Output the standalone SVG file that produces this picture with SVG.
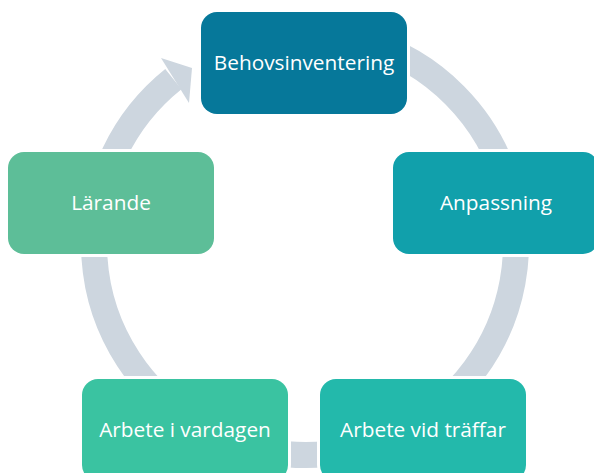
<svg xmlns="http://www.w3.org/2000/svg" width="594" height="473" viewBox="0 0 594 473">
  <style>
    .ring { fill: none; stroke: #CDD6DF; stroke-width: 26; stroke-linecap: butt; }
    .head { fill: #CDD6DF; }
    .halo { fill: #FFFFFF; }
    .lbl { font-family: "Open Sans", "Liberation Sans", sans-serif; font-size: 20.8px; fill: #FFFFFF; text-anchor: middle; }
  </style>
  <rect x="0" y="0" width="594" height="473" fill="#FFFFFF"/>
  <g id="connectors">
    <path class="ring" d="M 268.36 36.20 A 211 211 0 1 1 173.36 79.10"/>
    <polygon class="head" points="161,58 192,68 189,103"/>
  </g>
  <g id="halos">
    <rect class="halo" x="198" y="9" width="212" height="108" rx="19"/>
    <rect class="halo" x="390" y="149" width="212" height="108" rx="19"/>
    <rect class="halo" x="317" y="376" width="212" height="108" rx="19"/>
    <rect class="halo" x="79" y="376" width="212" height="108" rx="19"/>
    <rect class="halo" x="5" y="149" width="212" height="108" rx="19"/>
  </g>
  <g id="node-behovsinventering">
    <rect x="201" y="12" width="206" height="102" rx="16" fill="#06789A"/>
    <text class="lbl" x="304" y="70">Behovsinventering</text>
  </g>
  <g id="node-anpassning">
    <rect x="393" y="152" width="206" height="102" rx="16" fill="#11A0AB"/>
    <text class="lbl" x="496" y="210">Anpassning</text>
  </g>
  <g id="node-arbete-vid-traffar">
    <rect x="320" y="379" width="206" height="102" rx="16" fill="#23B9AB"/>
    <text class="lbl" x="423" y="437">Arbete vid träffar</text>
  </g>
  <g id="node-arbete-i-vardagen">
    <rect x="82" y="379" width="206" height="102" rx="16" fill="#3AC3A1"/>
    <text class="lbl" x="185" y="437">Arbete i vardagen</text>
  </g>
  <g id="node-larande">
    <rect x="8" y="152" width="206" height="102" rx="16" fill="#5DBE98"/>
    <text class="lbl" x="111" y="210">Lärande</text>
  </g>
</svg>
